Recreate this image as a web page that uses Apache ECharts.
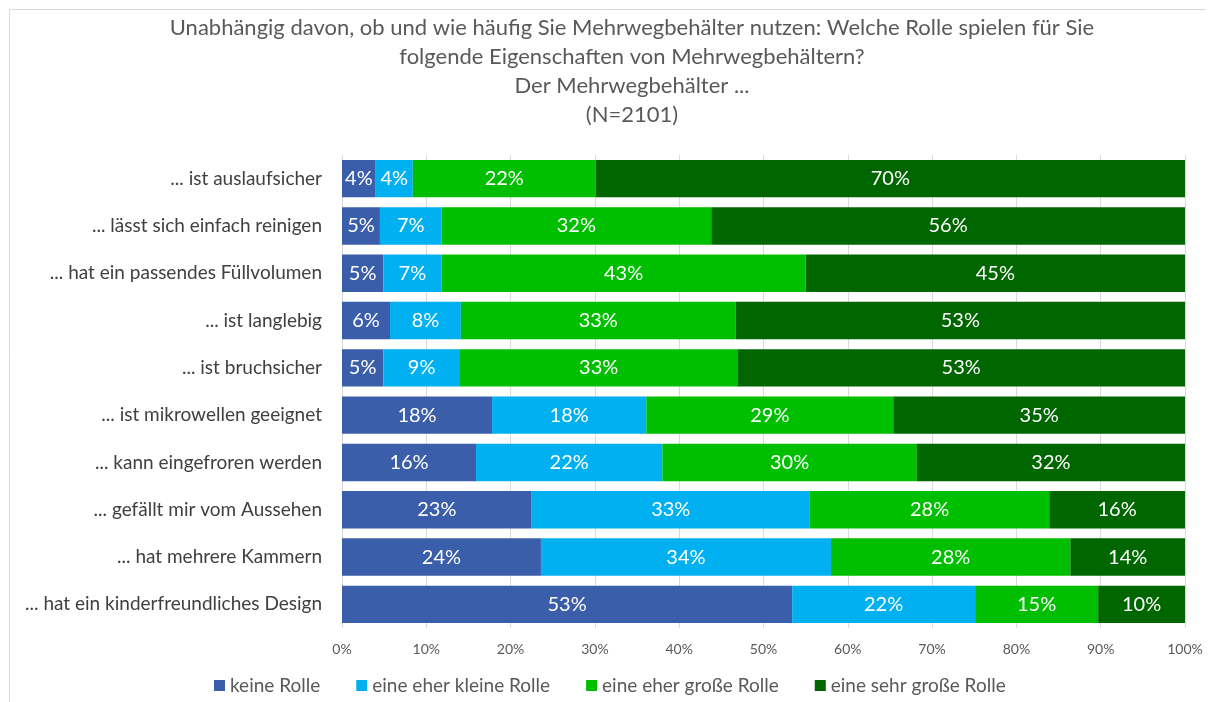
<!DOCTYPE html>
<html>
<head>
<meta charset="utf-8">
<script src="https://cdn.jsdelivr.net/npm/echarts@6/dist/echarts.min.js"></script>
<style>
  html, body { margin: 0; padding: 0; background: #fff; }
  #chart { width: 1214px; height: 702px; }
</style>
</head>
<body>
<div id="chart"></div>
<script>
  // Kategorien von oben nach unten
  let categories = [
    '... ist auslaufsicher',
    '... lässt sich einfach reinigen',
    '... hat ein passendes Füllvolumen',
    '... ist langlebig',
    '... ist bruchsicher',
    '... ist mikrowellen geeignet',
    '... kann eingefroren werden',
    '... gefällt mir vom Aussehen',
    '... hat mehrere Kammern',
    '... hat ein kinderfreundliches Design'
  ];
  let seriesNames = ['keine Rolle', 'eine eher kleine Rolle', 'eine eher große Rolle', 'eine sehr große Rolle'];
  let keineRolle = [4.0, 4.5, 4.9, 5.7, 4.9, 17.8, 15.9, 22.5, 23.6, 53.4];
  let kleineRolle = [4.4, 7.3, 6.9, 8.4, 9.1, 18.3, 22.1, 33.0, 34.4, 21.7];
  let grosseRolle = [21.7, 32.0, 43.2, 32.6, 32.9, 29.3, 30.2, 28.4, 28.4, 14.6];
  let sehrGrosseRolle = [69.9, 56.2, 45.0, 53.3, 53.1, 34.6, 31.8, 16.1, 13.6, 10.3];
  let tickLabels = ['0%', '10%', '20%', '30%', '40%', '50%', '60%', '70%', '80%', '90%', '100%'];

  let colors = ['#3B5EAA', '#00B0F0', '#00BE00', '#006600'];
  let fontFamily = 'Lato, "Noto Sans", sans-serif';

  let myChart = echarts.init(document.getElementById('chart'));

  let makeSeries = (name, data) => {
    return {
      name: name,
      type: 'bar',
      stack: 'total',
      barCategoryGap: '21%',
      data: data,
      label: {
        show: true,
        position: 'inside',
        color: '#fff',
        fontSize: 20,
        fontFamily: fontFamily,
        formatter: p => Math.round(p.value) + '%'
      }
    };
  };

  let option = {
    color: colors,
    animation: false,
    title: {
      text: 'Unabhängig davon, ob und wie häufig Sie Mehrwegbehälter nutzen: Welche Rolle spielen für Sie\nfolgende Eigenschaften von Mehrwegbehältern?\nDer Mehrwegbehälter ...\n(N=2101)',
      left: 632,
      top: 13,
      textAlign: 'center',
      padding: 0,
      textStyle: {
        color: '#595959',
        fontSize: 22,
        fontWeight: 'normal',
        fontFamily: fontFamily,
        lineHeight: 29
      }
    },
    legend: {
      data: seriesNames,
      left: 214,
      top: 676,
      padding: 0,
      itemWidth: 11,
      itemHeight: 11,
      itemGap: 36,
      icon: 'rect',
      textStyle: {
        color: '#595959',
        fontSize: 19,
        fontFamily: fontFamily
      }
    },
    grid: {
      left: 342,
      right: 29,
      top: 155,
      bottom: 74,
      containLabel: false
    },
    xAxis: {
      type: 'value',
      min: 0,
      max: 100,
      interval: 10,
      axisLine: { show: false },
      axisTick: { show: false },
      axisLabel: {
        color: '#595959',
        fontSize: 14,
        fontFamily: fontFamily,
        margin: 14,
        formatter: (v, i) => tickLabels[i]
      },
      splitLine: { lineStyle: { color: '#D9D9D9', width: 1 } }
    },
    yAxis: {
      type: 'category',
      inverse: true,
      data: categories,
      axisLine: { show: false },
      axisTick: { show: false },
      axisLabel: {
        color: '#404040',
        fontSize: 19,
        fontFamily: fontFamily,
        margin: 20
      }
    },
    graphic: [
      { type: 'line', shape: { x1: 9.5, y1: 9.5, x2: 1206, y2: 9.5 }, style: { stroke: '#D9D9D9', lineWidth: 1 } },
      { type: 'line', shape: { x1: 9.5, y1: 9.5, x2: 9.5, y2: 702 }, style: { stroke: '#D9D9D9', lineWidth: 1 } }
    ],
    series: [
      makeSeries(seriesNames[0], keineRolle),
      makeSeries(seriesNames[1], kleineRolle),
      makeSeries(seriesNames[2], grosseRolle),
      makeSeries(seriesNames[3], sehrGrosseRolle)
    ]
  };
  myChart.setOption(option);
</script>
</body>
</html>
